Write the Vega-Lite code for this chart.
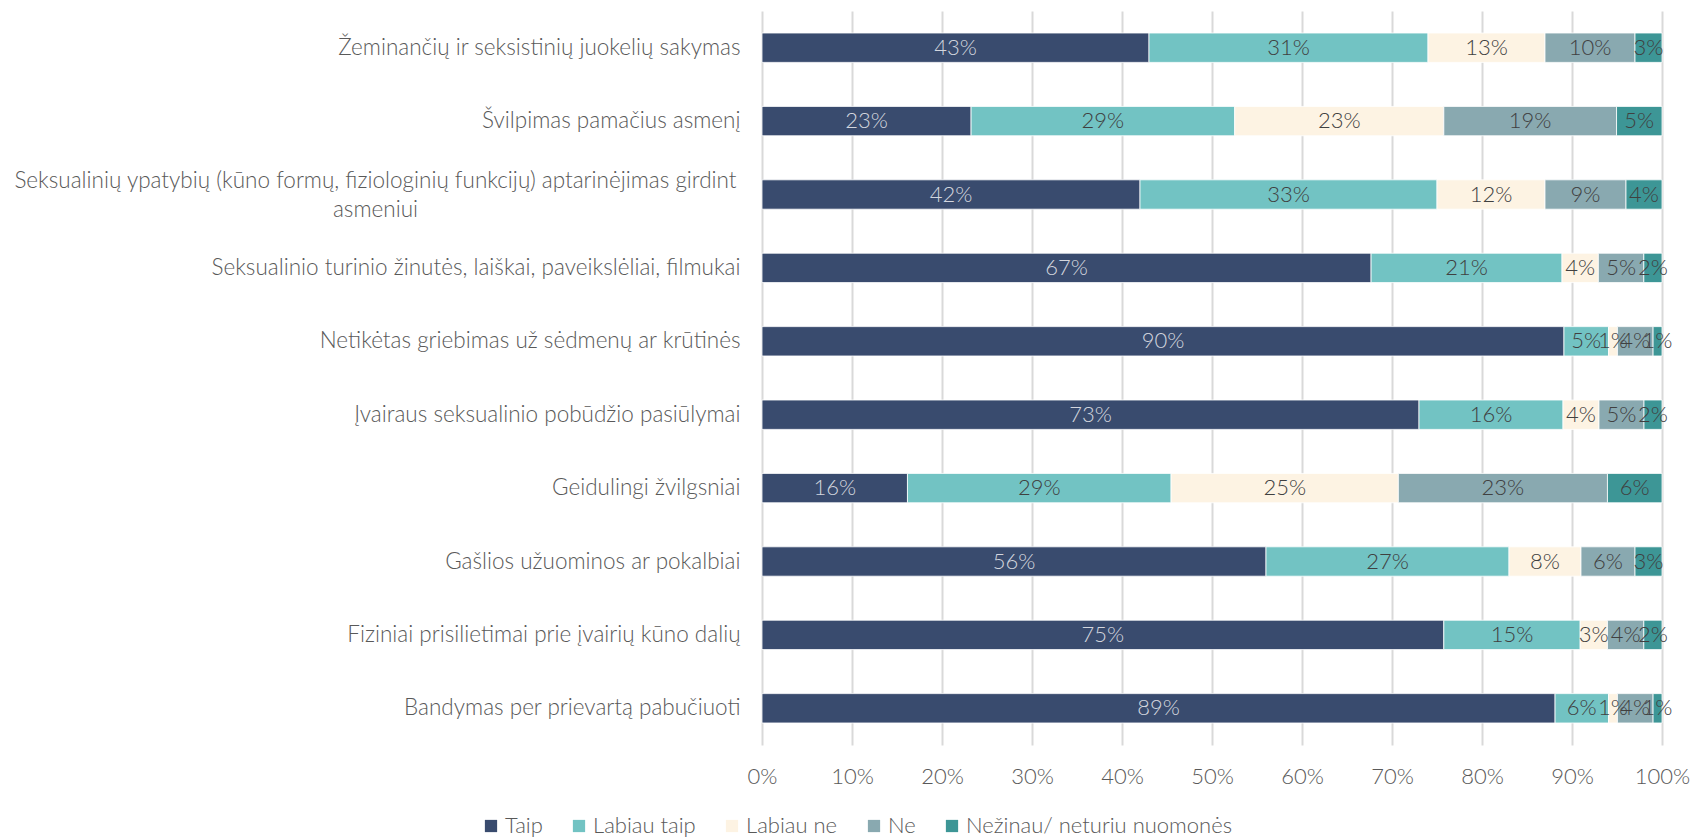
{
  "$schema": "https://vega.github.io/schema/vega-lite/v6.json",
  "width": 900,
  "height": 734,
  "autosize": {"type": "none"},
  "padding": {"left": 762, "top": 11, "right": 34, "bottom": 93},
  "background": "white",
  "config": {
    "font": "Lato",
    "view": {"stroke": null},
    "axis": {"labelFont": "Lato", "labelFontWeight": 300, "labelColor": "#595959"},
    "legend": {"labelFont": "Lato", "labelFontWeight": 300}
  },
  "data": {"values": [
    {"item": "Žeminančių ir seksistinių juokelių sakymas", "answer": "Taip", "pct": 43, "k": 1},
    {"item": "Žeminančių ir seksistinių juokelių sakymas", "answer": "Labiau taip", "pct": 31, "k": 2},
    {"item": "Žeminančių ir seksistinių juokelių sakymas", "answer": "Labiau ne", "pct": 13, "k": 3},
    {"item": "Žeminančių ir seksistinių juokelių sakymas", "answer": "Ne", "pct": 10, "k": 4},
    {"item": "Žeminančių ir seksistinių juokelių sakymas", "answer": "Nežinau/ neturiu nuomonės", "pct": 3, "k": 5},
    {"item": "Švilpimas pamačius asmenį", "answer": "Taip", "pct": 23, "k": 1},
    {"item": "Švilpimas pamačius asmenį", "answer": "Labiau taip", "pct": 29, "k": 2},
    {"item": "Švilpimas pamačius asmenį", "answer": "Labiau ne", "pct": 23, "k": 3},
    {"item": "Švilpimas pamačius asmenį", "answer": "Ne", "pct": 19, "k": 4},
    {"item": "Švilpimas pamačius asmenį", "answer": "Nežinau/ neturiu nuomonės", "pct": 5, "k": 5},
    {"item": "Seksualinių ypatybių (kūno formų, fiziologinių funkcijų) aptarinėjimas girdint asmeniui", "answer": "Taip", "pct": 42, "k": 1},
    {"item": "Seksualinių ypatybių (kūno formų, fiziologinių funkcijų) aptarinėjimas girdint asmeniui", "answer": "Labiau taip", "pct": 33, "k": 2},
    {"item": "Seksualinių ypatybių (kūno formų, fiziologinių funkcijų) aptarinėjimas girdint asmeniui", "answer": "Labiau ne", "pct": 12, "k": 3},
    {"item": "Seksualinių ypatybių (kūno formų, fiziologinių funkcijų) aptarinėjimas girdint asmeniui", "answer": "Ne", "pct": 9, "k": 4},
    {"item": "Seksualinių ypatybių (kūno formų, fiziologinių funkcijų) aptarinėjimas girdint asmeniui", "answer": "Nežinau/ neturiu nuomonės", "pct": 4, "k": 5},
    {"item": "Seksualinio turinio žinutės, laiškai, paveikslėliai, filmukai", "answer": "Taip", "pct": 67, "k": 1},
    {"item": "Seksualinio turinio žinutės, laiškai, paveikslėliai, filmukai", "answer": "Labiau taip", "pct": 21, "k": 2},
    {"item": "Seksualinio turinio žinutės, laiškai, paveikslėliai, filmukai", "answer": "Labiau ne", "pct": 4, "k": 3},
    {"item": "Seksualinio turinio žinutės, laiškai, paveikslėliai, filmukai", "answer": "Ne", "pct": 5, "k": 4},
    {"item": "Seksualinio turinio žinutės, laiškai, paveikslėliai, filmukai", "answer": "Nežinau/ neturiu nuomonės", "pct": 2, "k": 5},
    {"item": "Netikėtas griebimas už sėdmenų ar krūtinės", "answer": "Taip", "pct": 90, "k": 1},
    {"item": "Netikėtas griebimas už sėdmenų ar krūtinės", "answer": "Labiau taip", "pct": 5, "k": 2},
    {"item": "Netikėtas griebimas už sėdmenų ar krūtinės", "answer": "Labiau ne", "pct": 1, "k": 3},
    {"item": "Netikėtas griebimas už sėdmenų ar krūtinės", "answer": "Ne", "pct": 4, "k": 4},
    {"item": "Netikėtas griebimas už sėdmenų ar krūtinės", "answer": "Nežinau/ neturiu nuomonės", "pct": 1, "k": 5},
    {"item": "Įvairaus seksualinio pobūdžio pasiūlymai", "answer": "Taip", "pct": 73, "k": 1},
    {"item": "Įvairaus seksualinio pobūdžio pasiūlymai", "answer": "Labiau taip", "pct": 16, "k": 2},
    {"item": "Įvairaus seksualinio pobūdžio pasiūlymai", "answer": "Labiau ne", "pct": 4, "k": 3},
    {"item": "Įvairaus seksualinio pobūdžio pasiūlymai", "answer": "Ne", "pct": 5, "k": 4},
    {"item": "Įvairaus seksualinio pobūdžio pasiūlymai", "answer": "Nežinau/ neturiu nuomonės", "pct": 2, "k": 5},
    {"item": "Geidulingi žvilgsniai", "answer": "Taip", "pct": 16, "k": 1},
    {"item": "Geidulingi žvilgsniai", "answer": "Labiau taip", "pct": 29, "k": 2},
    {"item": "Geidulingi žvilgsniai", "answer": "Labiau ne", "pct": 25, "k": 3},
    {"item": "Geidulingi žvilgsniai", "answer": "Ne", "pct": 23, "k": 4},
    {"item": "Geidulingi žvilgsniai", "answer": "Nežinau/ neturiu nuomonės", "pct": 6, "k": 5},
    {"item": "Gašlios užuominos ar pokalbiai", "answer": "Taip", "pct": 56, "k": 1},
    {"item": "Gašlios užuominos ar pokalbiai", "answer": "Labiau taip", "pct": 27, "k": 2},
    {"item": "Gašlios užuominos ar pokalbiai", "answer": "Labiau ne", "pct": 8, "k": 3},
    {"item": "Gašlios užuominos ar pokalbiai", "answer": "Ne", "pct": 6, "k": 4},
    {"item": "Gašlios užuominos ar pokalbiai", "answer": "Nežinau/ neturiu nuomonės", "pct": 3, "k": 5},
    {"item": "Fiziniai prisilietimai prie įvairių kūno dalių", "answer": "Taip", "pct": 75, "k": 1},
    {"item": "Fiziniai prisilietimai prie įvairių kūno dalių", "answer": "Labiau taip", "pct": 15, "k": 2},
    {"item": "Fiziniai prisilietimai prie įvairių kūno dalių", "answer": "Labiau ne", "pct": 3, "k": 3},
    {"item": "Fiziniai prisilietimai prie įvairių kūno dalių", "answer": "Ne", "pct": 4, "k": 4},
    {"item": "Fiziniai prisilietimai prie įvairių kūno dalių", "answer": "Nežinau/ neturiu nuomonės", "pct": 2, "k": 5},
    {"item": "Bandymas per prievartą pabučiuoti", "answer": "Taip", "pct": 89, "k": 1},
    {"item": "Bandymas per prievartą pabučiuoti", "answer": "Labiau taip", "pct": 6, "k": 2},
    {"item": "Bandymas per prievartą pabučiuoti", "answer": "Labiau ne", "pct": 1, "k": 3},
    {"item": "Bandymas per prievartą pabučiuoti", "answer": "Ne", "pct": 4, "k": 4},
    {"item": "Bandymas per prievartą pabučiuoti", "answer": "Nežinau/ neturiu nuomonės", "pct": 1, "k": 5}
  ]},
  "encoding": {
    "y": {
      "field": "item", "type": "nominal", "sort": null, "title": null,
      "scale": {"paddingInner": 0.6, "paddingOuter": 0.3},
      "axis": {
        "domain": false, "ticks": false, "labelFontSize": 22.5, "labelLimit": 0,
        "labelPadding": {"condition": {"test": "length(datum.value) > 70", "value": 387}, "value": 22},
        "labelAlign": {"condition": {"test": "length(datum.value) > 70", "value": "center"}, "value": "right"},
        "labelOffset": {"condition": {"test": "length(datum.value) > 70", "value": -14}, "value": 0},
        "labelExpr": "length(datum.value) > 70 ? ['Seksualinių ypatybių (kūno formų, fiziologinių funkcijų) aptarinėjimas girdint', 'asmeniui'] : datum.value",
        "labelLineHeight": 29
      }
    },
    "x": {
      "field": "pct", "type": "quantitative", "stack": "normalize", "title": null,
      "scale": {"domain": [0, 1], "nice": false},
      "axis": {
        "format": ".0%", "values": [0, 0.1, 0.2, 0.3, 0.4, 0.5, 0.6, 0.7, 0.8, 0.9, 1],
        "labelOverlap": false, "labelBound": false, "labelFlush": false,
        "domain": false, "ticks": false, "grid": true, "gridColor": "#d9d9d9", "gridWidth": 2,
        "labelFontSize": 22, "labelPadding": 21
      }
    },
    "order": {"field": "k", "type": "quantitative"}
  },
  "layer": [
    {
      "mark": {"type": "bar", "stroke": "#ffffff", "strokeWidth": 0.8},
      "encoding": {
        "color": {
          "field": "answer", "type": "nominal", "title": null,
          "scale": {
            "domain": ["Taip", "Labiau taip", "Labiau ne", "Ne", "Nežinau/ neturiu nuomonės"],
            "range": ["#394b6e", "#72c3c3", "#fdf3e3", "#89a9b0", "#3d9696"]
          },
          "legend": {
            "orient": "none", "direction": "horizontal", "legendX": -282, "legendY": 804,
            "symbolType": "square", "symbolSize": 150, "symbolStrokeWidth": 0,
            "labelFontSize": 22, "labelColor": "#595959", "labelLimit": 0, "columnPadding": 25, "labelOffset": 3
          }
        }
      }
    },
    {
      "mark": {"type": "text", "fontSize": 22, "fontWeight": 300, "font": "Lato", "baseline": "middle", "align": "center", "text": {"expr": "datum.pct + '%'"}},
      "encoding": {
        "x": {"field": "pct", "type": "quantitative", "stack": "normalize", "bandPosition": 0.5},
        "color": {"condition": {"test": "datum.answer === 'Taip'", "value": "#d3d6de"}, "value": "#404040"}
      }
    }
  ]
}
